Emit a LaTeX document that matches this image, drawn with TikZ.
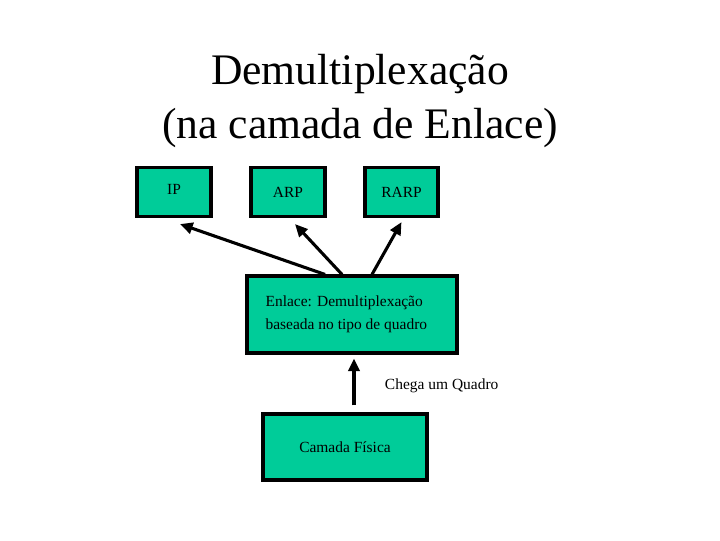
\documentclass[tikz,border=0pt]{standalone}
\usepackage{fontspec}
\setmainfont{Liberation Serif}
\usepackage{xcolor}
\usetikzlibrary{arrows.meta, positioning}

\definecolor{boxgreen}{RGB}{0,204,153}

\begin{document}
\begin{tikzpicture}[
            x=0.025cm, y=-0.025cm,
            font=\fontsize{11}{14}\selectfont,
            layer/.style={rectangle, draw=black, fill=boxgreen, line width=2.2pt, inner sep=2pt},
            arrow/.style={line width=2.2pt, -{Triangle[length=9pt, width=8pt]}, draw=black}
        ]
        \useasboundingbox (0,0) rectangle (720,540);

        % title
        \node (title) at (360,101) [align=center, font=\fontsize{31}{39}\selectfont] {Demultiplexação\\(na camada de Enlace)};

        % upper protocols
        \node (ip) [layer, minimum width=1.85cm, minimum height=1.225cm] at (174,192) {\raisebox{3pt}{IP}};
        \node (arp) [layer, minimum width=1.85cm, minimum height=1.225cm] at (288,192) {ARP};
        \node (rarp) [layer, minimum width=1.825cm, minimum height=1.225cm] at (401.5,192) {RARP};

        % link layer and physical layer
        \node (enlace) [layer, minimum width=5.25cm, minimum height=1.925cm, align=left, font=\fontsize{11}{16}\selectfont] at (352,314.5) {Enlace: Demultiplexação\\baseada no tipo de quadro\hspace*{8pt}};
        \node (fisica) [layer, minimum width=4.1cm, minimum height=1.65cm] at (345,447) {Camada Física};

        \node (chega) [anchor=west] at (380,386) {Chega um Quadro};

        \draw [arrow] ([shift={(-27,0)}]enlace.north) -- ([shift={(6,6)}]ip.south);
        \draw [arrow] ([shift={(-10,0)}]enlace.north) -- ([shift={(7,6)}]arp.south);
        \draw [arrow] ([shift={(20,0)}]enlace.north) -- ([shift={(0,4)}]rarp.south);
        \draw [arrow] ([shift={(9,-7)}]fisica.north) -- ([shift={(2,4)}]enlace.south);
\end{tikzpicture}
\end{document}
